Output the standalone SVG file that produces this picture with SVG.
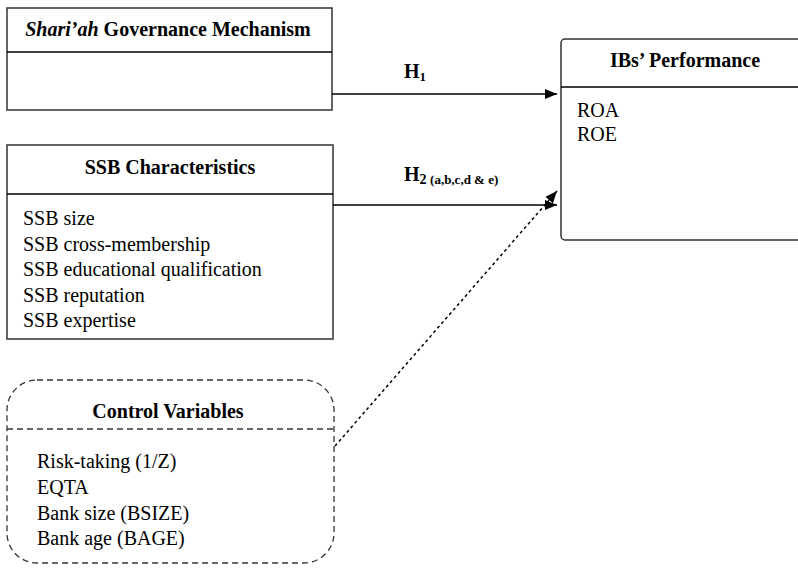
<svg xmlns="http://www.w3.org/2000/svg" width="798" height="570" viewBox="0 0 798 570">
<style>
text{font-family:"Liberation Serif","Times New Roman",serif;fill:#000}
.t{font-size:20px;font-weight:bold;text-anchor:middle}
.b{font-size:20px}
.box{fill:#fff;stroke:#333;stroke-width:1.5}
.dash{fill:#fff;stroke:#333;stroke-width:1.3;stroke-dasharray:6 4}
.ln{stroke:#000;stroke-width:1.5;fill:none}
.h{font-size:20px;font-weight:bold}
</style>
<defs>
<marker id="ah" viewBox="0 0 12 10" refX="12" refY="5" markerWidth="12" markerHeight="10" markerUnits="userSpaceOnUse" orient="auto">
<path d="M0,0 L12,5 L0,10 Z" fill="#000"/>
</marker>
</defs>
<rect width="798" height="570" fill="#fff"/>
<g id="shariah">
<rect class="box" x="7" y="8" width="325" height="102"/>
<line class="ln" x1="7" y1="52" x2="332" y2="52" stroke="#333"/>
<text class="t" x="168" y="36"><tspan font-style="italic">Shari’ah</tspan> Governance Mechanism</text>
</g>
<g id="ssb">
<rect class="box" x="7" y="145" width="326" height="194"/>
<line class="ln" x1="7" y1="194" x2="333" y2="194" stroke="#333"/>
<text class="t" x="170" y="174">SSB Characteristics</text>
<text class="b" x="23" y="225">SSB size</text>
<text class="b" x="23" y="251">SSB cross-membership</text>
<text class="b" x="23" y="276">SSB educational qualification</text>
<text class="b" x="23" y="302">SSB reputation</text>
<text class="b" x="23" y="327">SSB expertise</text>
</g>
<g id="performance">
<rect class="box" x="561" y="39" width="250" height="201" rx="4"/>
<line class="ln" x1="561" y1="87" x2="798" y2="87" stroke="#333"/>
<text class="t" x="685" y="67">IBs’ Performance</text>
<text class="b" x="577" y="117">ROA</text>
<text class="b" x="577" y="141">ROE</text>
</g>
<g id="control">
<rect class="dash" x="7" y="380" width="327" height="183" rx="30"/>
<line x1="7" y1="429" x2="334" y2="429" stroke="#333" stroke-width="1.3" stroke-dasharray="6 4"/>
<text class="t" x="168" y="418">Control Variables</text>
<text class="b" x="37" y="468">Risk-taking (1/Z)</text>
<text class="b" x="37" y="494">EQTA</text>
<text class="b" x="37" y="520">Bank size (BSIZE)</text>
<text class="b" x="37" y="545">Bank age (BAGE)</text>
</g>
<g id="connectors">
<line class="ln" x1="332" y1="94" x2="557" y2="94" marker-end="url(#ah)"/>
<line class="ln" x1="333" y1="205" x2="557" y2="205" marker-end="url(#ah)"/>
<line class="ln" x1="335" y1="446" x2="557" y2="191" stroke-dasharray="3 3" marker-end="url(#ah)"/>
<text class="h" x="404" y="78">H<tspan font-size="13" dy="3">1</tspan></text>
<text class="h" x="404" y="181">H<tspan font-size="14" dy="3">2 </tspan><tspan font-size="13">(a,b,c,d &amp; e)</tspan></text>
</g>
</svg>
